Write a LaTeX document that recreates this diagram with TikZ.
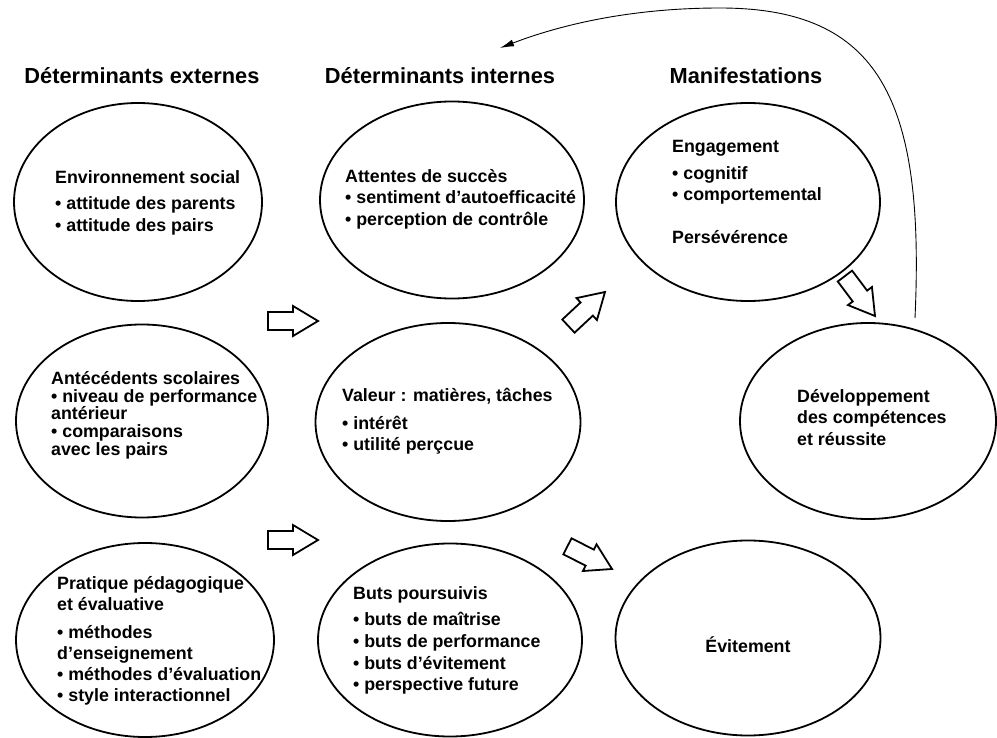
\documentclass[tikz,border=0pt]{standalone}
\usepackage{fontspec}
\setmainfont{Liberation Sans}
\usetikzlibrary{shapes.geometric, arrows.meta}

\tikzset{
	bubble/.style={draw, black, ellipse, line width=1.8pt, inner sep=0pt},
	txt/.style={anchor=north west, align=left, inner sep=0pt, font=\fontsize{17.8}{21.7}\selectfont\bfseries},
	heading/.style={inner sep=0pt, font=\fontsize{21.8}{26}\selectfont\bfseries},
	hollow/.style={draw, black, line width=1.8pt, fill=white, line join=miter},
	hollowarrow/.pic={
		\draw[hollow] (0,0) -- (-25,15) -- (-25,9) -- (-50,9) -- (-50,-9) -- (-25,-9) -- (-25,-15) -- cycle;
	}
}

\begin{document}
\begin{tikzpicture}[x=1pt, y=-1pt]
		\fill[white] (0,0) rectangle (997,738);
		\useasboundingbox (0,0) rectangle (997,738);

		% titres des colonnes
		\node[heading] (tExt) at (142,76) {Déterminants externes};
		\node[heading] (tInt) at (440,76) {Déterminants internes};
		\node[heading] (tMan) at (746,76) {Manifestations};

		% déterminants externes
		\node[bubble, minimum width=248pt, minimum height=198pt] (envsoc) at (138,202) {};
		\node[bubble, minimum width=252pt, minimum height=193pt] (antec) at (142,421) {};
		\node[bubble, minimum width=258pt, minimum height=194pt] (pratique) at (145,640) {};

		\node[txt] (envsocTxt) at (55,170) {Environnement social\\[5pt]• attitude des parents\\• attitude des pairs};
		\node[txt, font=\fontsize{17.8}{17.8}\selectfont\bfseries] (antecTxt) at (51,371) {Antécédents scolaires\\• niveau de performance\\antérieur\\• comparaisons\\avec les pairs};
		\node[txt, font=\fontsize{17.8}{20.8}\selectfont\bfseries] (pratiqueTxt) at (57,576) {Pratique pédagogique\\et évaluative\\[8pt]• méthodes\\d’enseignement\\• méthodes d’évaluation\\• style interactionnel};

		% déterminants internes
		\node[bubble, minimum width=264pt, minimum height=197pt] (attentes) at (452,200) {};
		\node[bubble, minimum width=265pt, minimum height=198pt] (valeur) at (448,422) {};
		\node[bubble, minimum width=264pt, minimum height=193pt] (buts) at (450,640) {};

		\node[txt] (attentesTxt) at (345,169) {Attentes de succès\\• sentiment d’autoefficacité\\• perception de contrôle};
		\node[txt] (valeurTxt) at (342,388) {Valeur : matières, tâches\\[6pt]• intérêt\\• utilité perçcue};
		\node[txt] (butsTxt) at (353,586) {Buts poursuivis\\[5pt]• buts de maîtrise\\• buts de performance\\• buts d’évitement\\• perspective future};

		% manifestations
		\node[bubble, minimum width=264pt, minimum height=198pt] (engag) at (748,202) {};
		\node[bubble, minimum width=256pt, minimum height=196pt] (devel) at (868,421) {};
		\node[bubble, minimum width=265pt, minimum height=195pt] (evit) at (748,638) {};

		\node[txt] (engagTxt) at (672,140) {Engagement\\[5pt]• cognitif\\• comportemental\\[21pt]Persévérence};
		\node[txt] (develTxt) at (797,389) {Développement\\des compétences\\et réussite};
		\node[txt, anchor=center] (evitTxt) at (748,645) {Évitement};

		% flèches creuses
		\coordinate (a1) at (318,321);
		\coordinate (a2) at (318,540);
		\coordinate (a3) at (605,292);
		\coordinate (a4) at (612,569);
		\coordinate (a5) at (875,316);

		\pic at (a1) {hollowarrow};
		\pic at (a2) {hollowarrow};
		\pic[rotate=43] at (a3) {hollowarrow};
		\pic[rotate=-27] at (a4) {hollowarrow};
		\pic[rotate=-53] at (a5) {hollowarrow};

		% retour
		\coordinate (loopstart) at (915,318);
		\coordinate (loopend) at (500,48);
		\draw[-{Latex[length=14pt, width=7pt]}, black, line width=0.9pt] (loopstart) .. controls (925,100) and (880,8) .. (720,8) .. controls (630,8) and (560,25) .. (loopend);
	\end{tikzpicture}
\end{document}
